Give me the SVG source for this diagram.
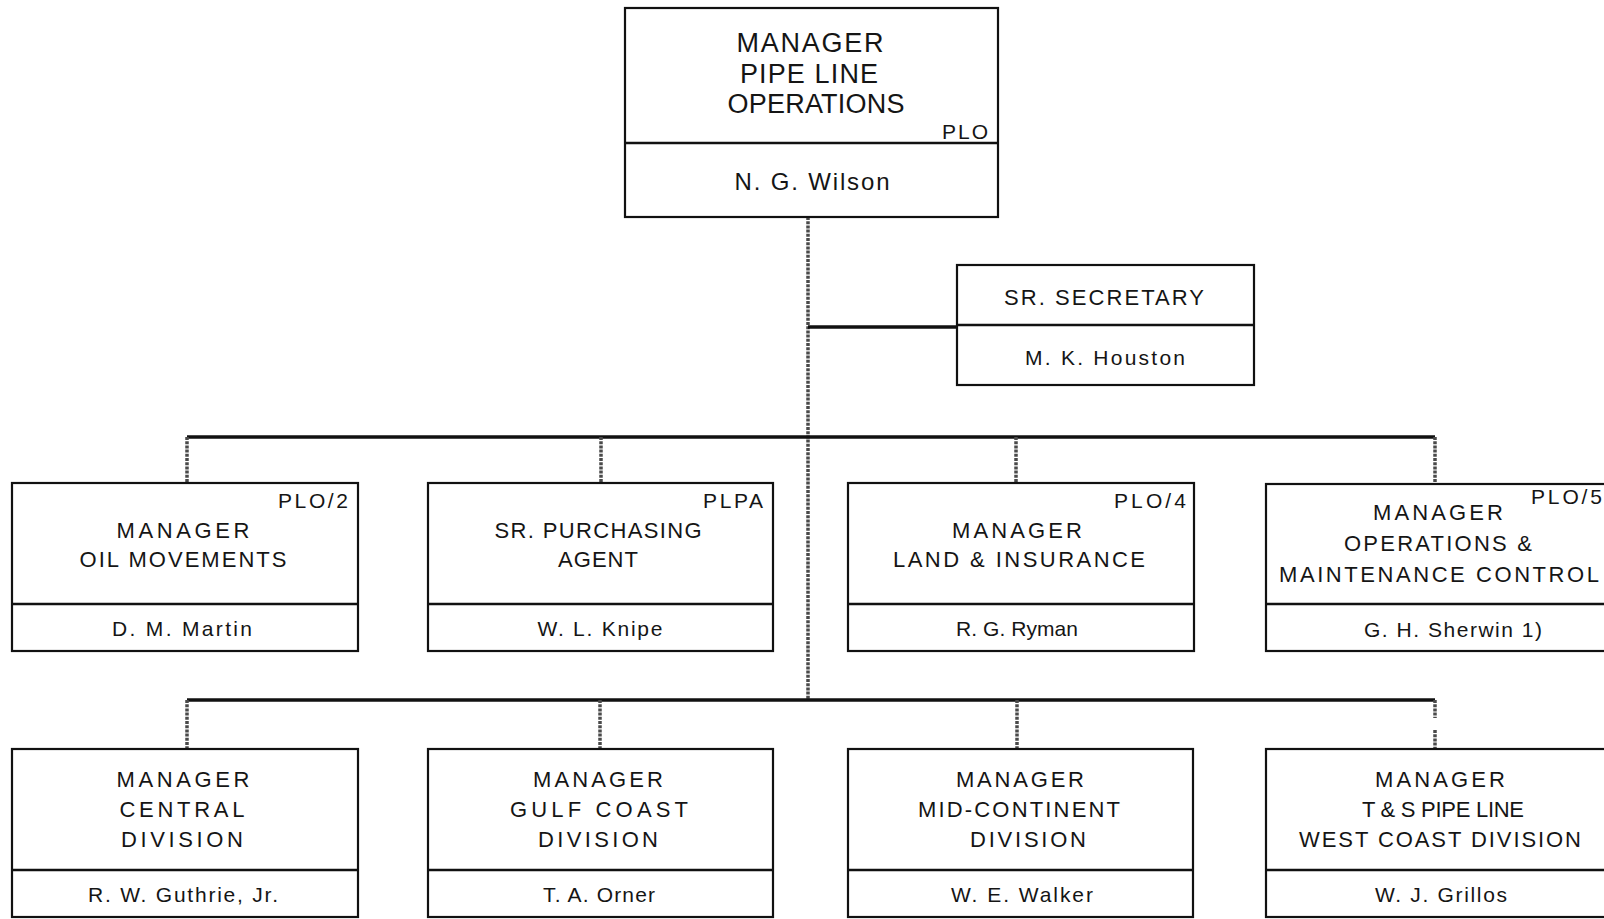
<svg xmlns="http://www.w3.org/2000/svg" width="1604" height="919" viewBox="0 0 1604 919">
<style>
.bg{fill:#ffffff}
.box{fill:none;stroke:#111;stroke-width:2.2}
.div{stroke:#111;stroke-width:2.6}
.bus{stroke:#111;stroke-width:3.5;fill:none}
.drop{stroke:#4a4a4a;stroke-width:3.5;stroke-dasharray:3 1.2;fill:none}
text{font-family:"Liberation Sans",Arial,sans-serif;fill:#151515}
.c{text-anchor:middle;font-size:22px}
.n{text-anchor:middle;font-size:21px}
.r{text-anchor:end;font-size:21px}
.big{text-anchor:middle;font-size:27px}
</style>
<rect class="bg" x="0" y="0" width="1604" height="919"/>

<g id="connectors">
  <line class="drop" x1="808" y1="217" x2="808" y2="701"/>
  <line class="bus" x1="808" y1="327" x2="957" y2="327"/>
  <polyline class="bus" points="187,437 1435,437"/>
  <line class="drop" x1="187" y1="437" x2="187" y2="483"/>
  <line class="drop" x1="601" y1="437" x2="601" y2="483"/>
  <line class="drop" x1="1016" y1="437" x2="1016" y2="483"/>
  <line class="drop" x1="1435" y1="437" x2="1435" y2="484"/>
  <polyline class="bus" points="187,700 1435,700"/>
  <line class="drop" x1="187" y1="700" x2="187" y2="749"/>
  <line class="drop" x1="600" y1="700" x2="600" y2="749"/>
  <line class="drop" x1="1017" y1="700" x2="1017" y2="749"/>
  <line class="drop" x1="1435" y1="700" x2="1435" y2="718"/>
  <line class="drop" x1="1435" y1="730" x2="1435" y2="749"/>
</g>

<g id="node-plo">
  <rect class="box" x="625" y="8" width="373" height="209"/>
  <line class="div" x1="625" y1="143" x2="998" y2="143"/>
  <text class="big" x="810" y="52" textLength="147">MANAGER</text>
  <text class="big" x="809" y="83" textLength="138">PIPE LINE</text>
  <text class="big" x="816" y="113" textLength="177">OPERATIONS</text>
  <text class="r" x="988" y="139" textLength="46">PLO</text>
  <text class="n" x="812" y="190" style="font-size:24px" textLength="155">N. G. Wilson</text>
</g>

<g id="node-secretary">
  <rect class="box" x="957" y="265" width="297" height="120"/>
  <line class="div" x1="957" y1="325" x2="1254" y2="325"/>
  <text class="c" x="1104" y="305" textLength="200">SR. SECRETARY</text>
  <text class="n" x="1105" y="365" textLength="160">M. K. Houston</text>
</g>

<g id="node-plo2">
  <rect class="box" x="12" y="483" width="346" height="168"/>
  <line class="div" x1="12" y1="604" x2="358" y2="604"/>
  <text class="r" x="348" y="508" textLength="70">PLO/2</text>
  <text class="c" x="183" y="538" textLength="133">MANAGER</text>
  <text class="c" x="183" y="567" textLength="207">OIL MOVEMENTS</text>
  <text class="n" x="182" y="636" textLength="140">D. M. Martin</text>
</g>

<g id="node-plpa">
  <rect class="box" x="428" y="483" width="345" height="168"/>
  <line class="div" x1="428" y1="604" x2="773" y2="604"/>
  <text class="r" x="763" y="508" textLength="60">PLPA</text>
  <text class="c" x="598" y="538" textLength="207">SR. PURCHASING</text>
  <text class="c" x="598" y="567" textLength="80">AGENT</text>
  <text class="n" x="600" y="636" textLength="125">W. L. Knipe</text>
</g>

<g id="node-plo4">
  <rect class="box" x="848" y="483" width="346" height="168"/>
  <line class="div" x1="848" y1="604" x2="1194" y2="604"/>
  <text class="r" x="1186" y="508" textLength="72">PLO/4</text>
  <text class="c" x="1017" y="538" textLength="130">MANAGER</text>
  <text class="c" x="1019" y="567" textLength="252">LAND &amp; INSURANCE</text>
  <text class="n" x="1017" y="636" textLength="122">R. G. Ryman</text>
</g>

<g id="node-plo5">
  <rect class="box" x="1266" y="484" width="350" height="167"/>
  <line class="div" x1="1266" y1="604" x2="1616" y2="604"/>
  <text x="1531" y="504" style="font-size:21px" textLength="71">PLO/5</text>
  <text class="c" x="1438" y="520" textLength="130">MANAGER</text>
  <text class="c" x="1438" y="551" textLength="188">OPERATIONS &amp;</text>
  <text class="c" x="1439" y="582" textLength="320">MAINTENANCE CONTROL</text>
  <text class="n" x="1453" y="637" textLength="178">G. H. Sherwin 1)</text>
</g>

<g id="node-central">
  <rect class="box" x="12" y="749" width="346" height="168"/>
  <line class="div" x1="12" y1="870" x2="358" y2="870"/>
  <text class="c" x="183" y="787" textLength="133">MANAGER</text>
  <text class="c" x="182" y="817" textLength="125">CENTRAL</text>
  <text class="c" x="182" y="847" textLength="122">DIVISION</text>
  <text class="n" x="183" y="902" textLength="190">R. W. Guthrie, Jr.</text>
</g>

<g id="node-gulf">
  <rect class="box" x="428" y="749" width="345" height="168"/>
  <line class="div" x1="428" y1="870" x2="773" y2="870"/>
  <text class="c" x="598" y="787" textLength="130">MANAGER</text>
  <text class="c" x="599" y="817" textLength="178">GULF COAST</text>
  <text class="c" x="598" y="847" textLength="120">DIVISION</text>
  <text class="n" x="599" y="902" textLength="112">T. A. Orner</text>
</g>

<g id="node-midcon">
  <rect class="box" x="848" y="749" width="345" height="168"/>
  <line class="div" x1="848" y1="870" x2="1193" y2="870"/>
  <text class="c" x="1020" y="787" textLength="128">MANAGER</text>
  <text class="c" x="1019" y="817" textLength="202">MID-CONTINENT</text>
  <text class="c" x="1028" y="847" textLength="116">DIVISION</text>
  <text class="n" x="1022" y="902" textLength="142">W. E. Walker</text>
</g>

<g id="node-ts">
  <rect class="box" x="1266" y="749" width="350" height="168"/>
  <line class="div" x1="1266" y1="870" x2="1616" y2="870"/>
  <text class="c" x="1440" y="787" textLength="130">MANAGER</text>
  <text class="c" x="1443" y="817" textLength="162">T &amp; S PIPE LINE</text>
  <text class="c" x="1440" y="847" textLength="282">WEST COAST DIVISION</text>
  <text class="n" x="1441" y="902" textLength="132">W. J. Grillos</text>
</g>
</svg>
